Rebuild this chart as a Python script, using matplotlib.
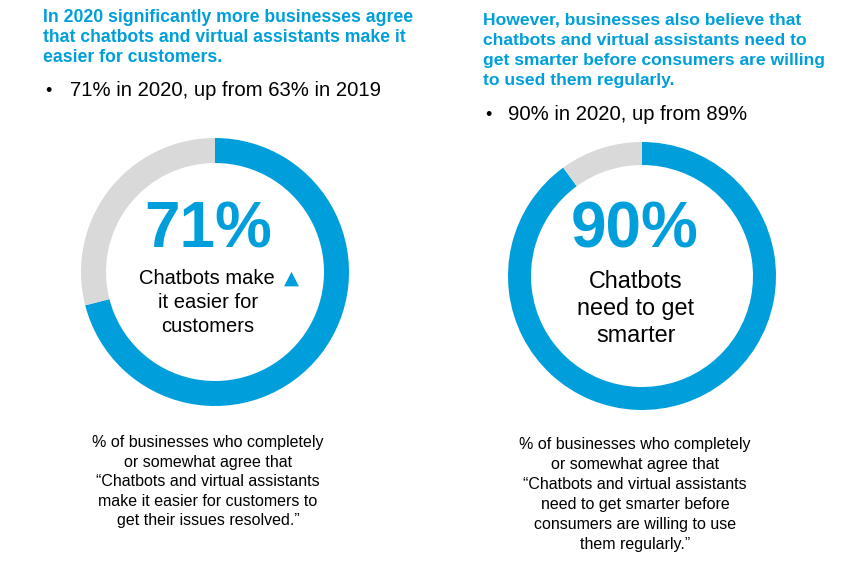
import matplotlib.pyplot as plt

agree_2020 = [71, 29]      # make it easier for customers
smarter_2020 = [90, 10]    # need to get smarter
left_titles = ["In 2020 significantly more businesses agree",
               "that chatbots and virtual assistants make it",
               "easier for customers."]
right_titles = ["However, businesses also believe that",
                "chatbots and virtual assistants need to",
                "get smarter before consumers are willing",
                "to used them regularly."]

blue = "#009FDB"
grey = "#D9D9D9"
W, H = 850, 578

plt.rcParams['font.family'] = ['Liberation Sans', 'DejaVu Sans']
fig = plt.figure(figsize=(8.5, 5.78), dpi=100)
ax = fig.add_axes([0, 0, 1, 1])

def Y(y):
    return H - y

ax.pie(agree_2020, colors=[blue, grey], startangle=90, counterclock=False,
       center=(215, Y(272)), radius=134, wedgeprops=dict(width=25, linewidth=0))
ax.pie(smarter_2020, colors=[blue, grey], startangle=90, counterclock=False,
       center=(642, Y(276)), radius=134, wedgeprops=dict(width=23, linewidth=0))
ax.set_xlim(0, W)
ax.set_ylim(0, H)
ax.set_aspect('auto')
ax.axis('off')

# headings
for i, t in enumerate(left_titles):
    ax.text(43, Y(17 + i * 20.5), t, color=blue, fontsize=12.7, fontweight='bold',
            ha='left', va='center')
for i, t in enumerate(right_titles):
    ax.text(483, Y(20 + i * 20.2), t, color=blue, fontsize=12.6, fontweight='bold',
            ha='left', va='center')

# bullets
ax.text(45, Y(91), "•", fontsize=13, ha='left', va='center')
ax.text(70, Y(91), f"{agree_2020[0]}% in 2020, up from 63% in 2019", fontsize=14.6,
        ha='left', va='center')
ax.text(485, Y(115), "•", fontsize=13, ha='left', va='center')
ax.text(508, Y(115), f"{smarter_2020[0]}% in 2020, up from 89%", fontsize=14.6,
        ha='left', va='center')

# centre labels
ax.text(208, Y(231), f"{agree_2020[0]}%", color=blue, fontsize=46, fontweight='bold',
        ha='center', va='center')
ax.text(207, Y(279), "Chatbots make", fontsize=14.5, ha='center', va='center')
ax.text(291, Y(278), "▲", color=blue, fontsize=14, ha='center', va='center',
        family='DejaVu Sans')
ax.text(208, Y(302), "it easier for", fontsize=14.5, ha='center', va='center')
ax.text(208, Y(326), "customers", fontsize=14.5, ha='center', va='center')

ax.text(635, Y(231), f"{smarter_2020[0]}%", color=blue, fontsize=46, fontweight='bold',
        ha='center', va='center')
ax.text(636, Y(281), "Chatbots", fontsize=16.8, ha='center', va='center')
ax.text(636, Y(308), "need to get", fontsize=16.8, ha='center', va='center')
ax.text(636, Y(335), "smarter", fontsize=16.8, ha='center', va='center')

# footnotes
left_note = ["% of businesses who completely", "or somewhat agree that",
             "\u201cChatbots and virtual assistants",
             "make it easier for customers to", "get their issues resolved.\u201d"]
right_note = ["% of businesses who completely", "or somewhat agree that",
              "\u201cChatbots and virtual assistants",
              "need to get smarter before", "consumers are willing to use",
              "them regularly.\u201d"]
for i, t in enumerate(left_note):
    ax.text(208, Y(443 + i * 19.5), t, fontsize=11.5, ha='center', va='center')
for i, t in enumerate(right_note):
    ax.text(635, Y(445 + i * 19.8), t, fontsize=11.5, ha='center', va='center')

fig.savefig("out.png", dpi=100)
